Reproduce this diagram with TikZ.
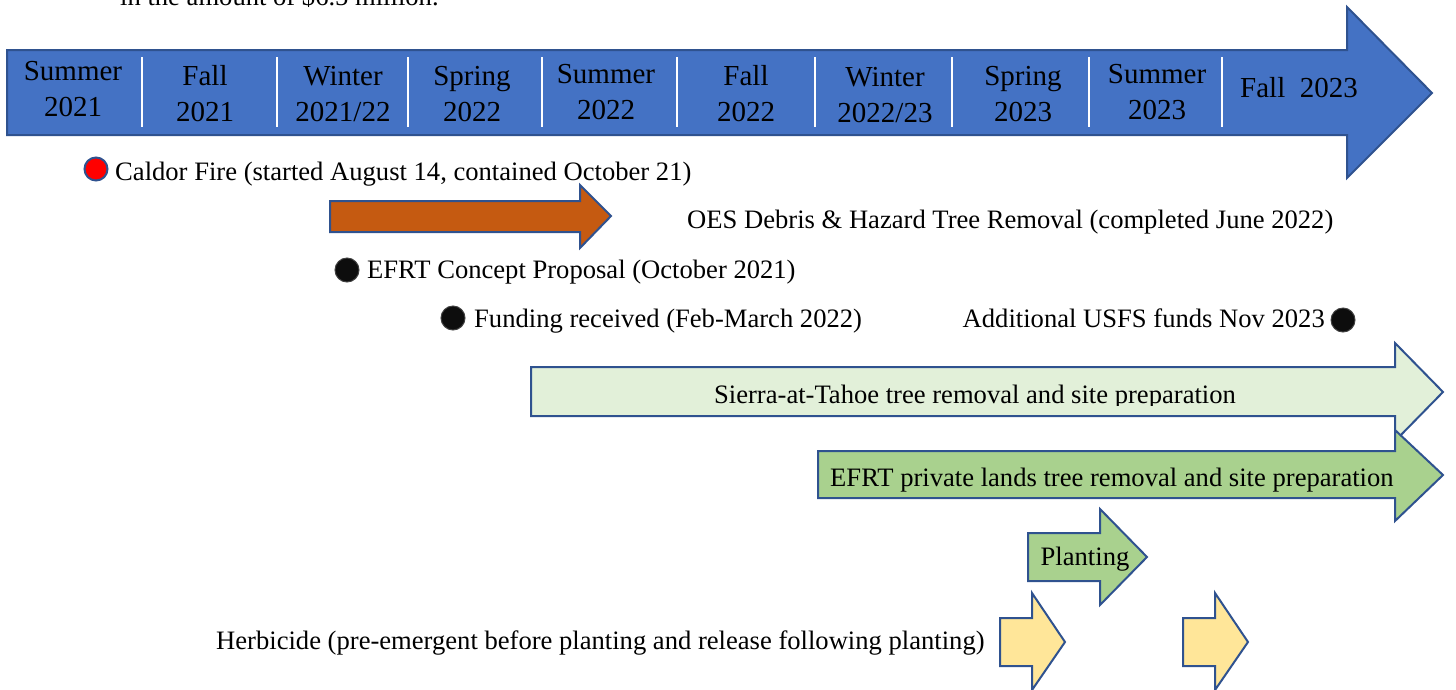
\documentclass[tikz,border=0pt]{standalone}
\usepackage{fontspec}
\setmainfont{Liberation Serif}
\definecolor{barblue}{HTML}{4472C4}
\definecolor{edgeblue}{HTML}{2F528F}
\definecolor{burnt}{HTML}{C55A11}
\definecolor{palegreen}{HTML}{E2F0D9}
\definecolor{leafgreen}{HTML}{A9D18E}
\definecolor{paleyellow}{HTML}{FFE699}
\definecolor{inkdot}{HTML}{0D0D0D}
\begin{document}
\begin{tikzpicture}[x=1pt,y=-1pt,
  txt/.style={font=\fontsize{26.6}{32}\selectfont, inner sep=0pt},
  season/.style={font=\fontsize{29}{35}\selectfont, inner sep=0pt, anchor=base},
  shapeline/.style={draw=edgeblue, line width=2pt, line join=miter},
  milestone/.style={circle, minimum size=24pt, inner sep=0pt, fill=inkdot, draw=black!75, line width=1pt},
  firedot/.style={circle, minimum size=23pt, inner sep=0pt, fill=red, draw=edgeblue, line width=2pt},
  divider/.style={draw=white, line width=2.5pt}]
\useasboundingbox (0,0) rectangle (1456,689);
\clip (0,0) rectangle (1456,689);

% closing line of the paragraph above the chart
\node[txt, anchor=base west] (intro) at (120,5) {in the amount of \$6.5 million.};

% season bar
\draw[shapeline, draw=edgeblue, fill=barblue]
  (7,50) -- (1347,50) -- (1347,7) -- (1432,93) -- (1347,178) -- (1347,135) -- (7,135) -- cycle;
\foreach \x in {142,277,408,542,677,815,952,1089,1222}
  \draw[divider] (\x,57) -- (\x,127);
\foreach \x/\y/\a/\b/\n in {73/80/Summer/2021/1, 205/85/Fall/2021/2, 343/85/Winter/2021\slash 22/3,
    472/85/Spring/2022/4, 606/83/Summer/2022/5, 746/85/Fall/2022/6, 885/86/Winter/2022\slash 23/7,
    1023/85/Spring/2023/8, 1157/83/Summer/2023/9} {
  \node[season] (top\n) at (\x,\y) {\a};
  \node[season] (bot\n) at (\x,\y+36.5) {\b};
}
\node[season, anchor=base west] (top10) at (1240,97) {Fall\ \ 2023};

% fire
\node[firedot] (fire) at (96,169) {};
\node[txt, anchor=base west] (firetxt) at (115,180) {Caldor Fire (started August 14, contained October 21)};

% debris removal
\draw[shapeline, fill=burnt]
  (330,201) -- (580,201) -- (580,185) -- (611,216) -- (580,248) -- (580,232) -- (330,232) -- cycle;
\node[txt, anchor=base west] (oes) at (687,228) {OES Debris \& Hazard Tree Removal (completed June 2022)};

% milestones
\node[milestone] (concept) at (347,270) {};
\node[txt, anchor=base west] (concepttxt) at (367,278) {EFRT Concept Proposal (October 2021)};
\node[milestone] (funding) at (453,318) {};
\node[txt, anchor=base west] (fundingtxt) at (474,327) {Funding received (Feb-March 2022)};
\node[milestone] (usfs) at (1343,320) {};
\node[txt, anchor=base east] (usfstxt) at (1325,327) {Additional USFS funds Nov 2023};

% Sierra-at-Tahoe work
\draw[shapeline, fill=palegreen]
  (531,367) -- (1395,367) -- (1395,343) -- (1443,392) -- (1395,441) -- (1395,416) -- (531,416) -- cycle;
\begin{scope}
  \clip (531,367) rectangle (1395,405.5);
  \node[txt, anchor=base] (sierra) at (975,403.5) {Sierra-at-Tahoe tree removal and site preparation};
\end{scope}

% private lands work
\draw[shapeline, fill=leafgreen]
  (818,451) -- (1395,451) -- (1395,430) -- (1443,475) -- (1395,521) -- (1395,498) -- (818,498) -- cycle;
\node[txt, anchor=base west] (private) at (830,486) {EFRT private lands tree removal and site preparation};

% planting
\draw[shapeline, fill=leafgreen]
  (1028,533) -- (1100,533) -- (1100,509) -- (1147,557) -- (1100,605) -- (1100,581) -- (1028,581) -- cycle;
\node[txt, anchor=base] (planting) at (1085,565) {Planting};

% herbicide
\node[txt, anchor=base west] (herbtxt) at (216,649) {Herbicide (pre-emergent before planting and release following planting)};
\foreach \dx in {0,183}
  \draw[shapeline, fill=paleyellow]
    (1000+\dx,618) -- (1032+\dx,618) -- (1032+\dx,593) -- (1065+\dx,642) -- (1032+\dx,690) -- (1032+\dx,666) -- (1000+\dx,666) -- cycle;
\end{tikzpicture}
\end{document}
